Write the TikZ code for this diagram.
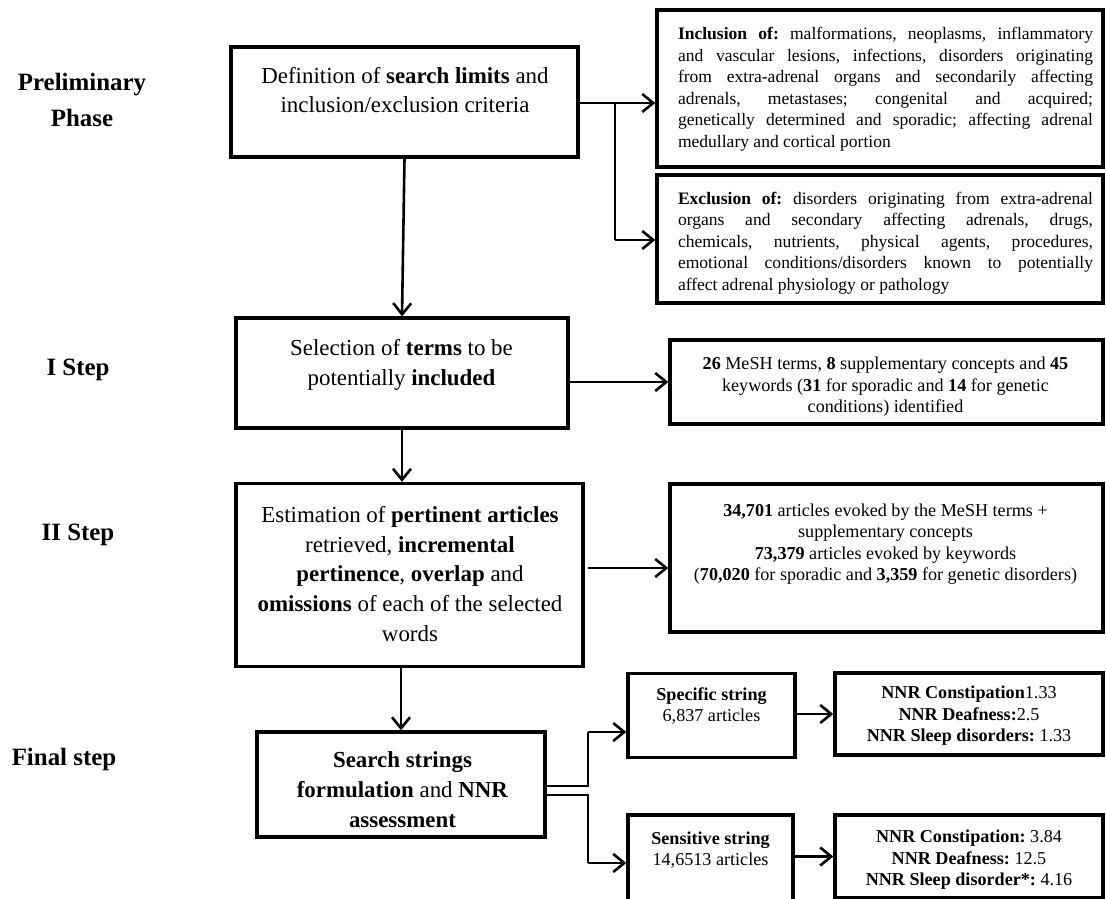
\documentclass[tikz,border=0pt]{standalone}
\usepackage{fontspec}
\setmainfont{Liberation Serif}[BoldFont={Liberation Serif Bold}]
\usetikzlibrary{arrows.meta}
\frenchspacing
\tikzset{
  frame/.style={draw=black, line width=3.4bp, inner sep=0pt},
  bigtxt/.style={inner sep=0pt, align=center, font=\fontsize{23}{30}\selectfont},
  smalltxt/.style={inner sep=0pt, align=center, font=\fontsize{18.2}{21.6}\selectfont},
  justtxt/.style={inner sep=0pt, align=justify, text width=415bp, font=\fontsize{17.6}{21.6}\selectfont},
  phase/.style={inner sep=0pt, align=center, font=\fontsize{25}{36}\selectfont\bfseries},
  arr/.style={line width=2.6bp, -{Straight Barb[length=11bp,width=18bp,line width=2.6bp]}},
  link/.style={line width=2.6bp},
}
\begin{document}
\begin{tikzpicture}[x=1bp, y=-1bp]
\useasboundingbox (0,0) rectangle (1106,899);
% phase labels
\node[phase] (p0) at (82,100) {Preliminary\\Phase};
\node[phase] (p1) at (78,370) {I Step};
\node[phase] (p2) at (78,535) {II Step};
\node[phase] (p3) at (64,760) {Final step};
% frames
\node[frame, minimum width=347bp, minimum height=110bp] (A) at (404.5,102) {};
\node[frame, minimum width=446bp, minimum height=157bp] (Inc) at (880,88.5) {};
\node[frame, minimum width=446bp, minimum height=128bp] (Exc) at (880,239) {};
\node[frame, minimum width=332bp, minimum height=110bp] (B) at (402,373) {};
\node[frame, minimum width=433bp, minimum height=84bp] (Bres) at (886.5,382) {};
\node[frame, minimum width=347bp, minimum height=183bp] (C) at (409.5,575) {};
\node[frame, minimum width=433bp, minimum height=148bp] (Cres) at (886.5,558) {};
\node[frame, minimum width=288bp, minimum height=105bp] (D) at (401,784.5) {};
\node[frame, minimum width=167bp, minimum height=84bp] (Spec) at (711.5,715.5) {};
\node[frame, minimum width=268bp, minimum height=82bp] (SpecR) at (969,714) {};
\node[frame, minimum width=165bp, minimum height=95bp] (Sens) at (710.5,862.5) {};
\node[frame, minimum width=268bp, minimum height=83bp] (SensR) at (969,856.5) {};
% texts
\node[bigtxt] (At) at (405,90) {Definition of \textbf{search limits} and\\inclusion/exclusion criteria};
\node[justtxt] (Inct) at (885.5,89) {\textbf{Inclusion of:} malformations, neoplasms, inflammatory\linebreak
and vascular lesions, infections, disorders originating\linebreak
from extra-adrenal organs and secondarily affecting\linebreak
adrenals, metastases; congenital and acquired;\linebreak
genetically determined and sporadic; affecting adrenal\linebreak
medullary and cortical portion};
\node[justtxt] (Exct) at (885.5,243) {\textbf{Exclusion of:} disorders originating from extra-adrenal\linebreak
organs and secondary affecting adrenals, drugs,\linebreak
chemicals, nutrients, physical agents, procedures,\linebreak
emotional conditions/disorders known to potentially\linebreak
affect adrenal physiology or pathology};
\node[bigtxt] (Bt) at (401.5,365) {Selection of \textbf{terms} to be\\potentially \textbf{included}};
\node[smalltxt] (Brt) at (885.5,387) {\textbf{26} MeSH terms, \textbf{8} supplementary concepts and \textbf{45}\\keywords (\textbf{31} for sporadic and \textbf{14} for genetic\\conditions) identified};
\node[bigtxt] (Ct) at (410,574) {Estimation of \textbf{pertinent articles}\\retrieved, \textbf{incremental}\\\textbf{pertinence}, \textbf{overlap} and\\\textbf{omissions} of each of the selected\\words};
\node[smalltxt] (Crt) at (885.5,544) {\textbf{34,701} articles evoked by the MeSH terms +\\supplementary concepts\\\textbf{73,379} articles evoked by keywords\\(\textbf{70,020} for sporadic and \textbf{3,359} for genetic disorders)};
\node[bigtxt] (Dt) at (402.5,790) {\textbf{Search strings}\\\textbf{formulation} and \textbf{NNR}\\\textbf{assessment}};
\node[smalltxt] (Spt) at (711.5,706) {\textbf{Specific string}\\6,837 articles};
\node[smalltxt] (Sprt) at (969,716) {\textbf{NNR Constipation}1.33\\\textbf{NNR Deafness:}2.5\\\textbf{NNR Sleep disorders:} 1.33};
\node[smalltxt] (Set) at (710.5,850) {\textbf{Sensitive string}\\14,6513 articles};
\node[smalltxt] (Sert) at (969,860) {\textbf{NNR Constipation:} 3.84\\\textbf{NNR Deafness:} 12.5\\\textbf{NNR Sleep disorder*:} 4.16};
% junctions
\coordinate (ja) at (615,103);
\coordinate (ja2) at (615,240);
\coordinate (jc) at (588,568);
\coordinate (ju) at (588,786);
\coordinate (jl) at (588,795);
\coordinate (su) at (588,732);
\coordinate (sl) at (588,863);
% connectors
\draw[arr] (A.east |- ja) -- (ja -| Inc.west);
\draw[link] (ja) -- (ja2);
\draw[arr] (ja2) -- (ja2 -| Exc.west);
\draw[arr] (A.south) -- (B.north);
\draw[arr] (B.east |- Bres.west) -- (Bres.west);
\draw[arr] (B.south) -- (B.south |- C.north);
\draw[arr] (jc) -- (jc -| Cres.west);
\draw[arr] (C.south -| D.north) -- (D.north);
\draw[link] (D.east |- ju) -- (ju) -- (su);
\draw[arr] (su) -- (su -| Spec.west);
\draw[link] (D.east |- jl) -- (jl) -- (sl);
\draw[arr] (sl) -- (sl -| Sens.west);
\draw[arr] (Spec.east |- SpecR.west) -- (SpecR.west);
\draw[arr] (Sens.east |- SensR.west) -- (SensR.west);
\end{tikzpicture}
\end{document}
